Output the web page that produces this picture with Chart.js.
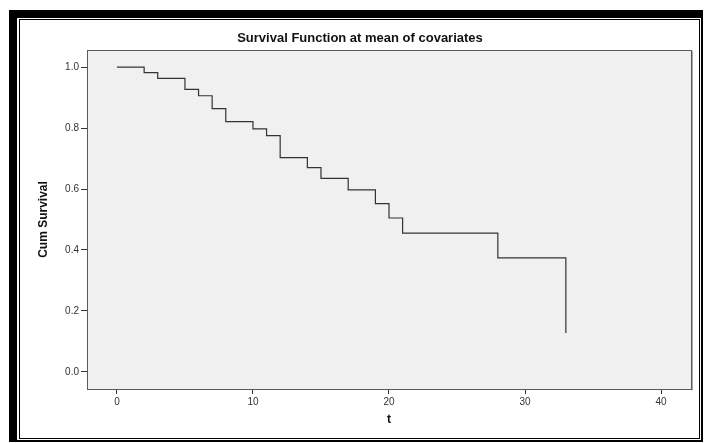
<!DOCTYPE html>
<html>
<head>
<meta charset="utf-8">
<script src="https://cdn.jsdelivr.net/npm/chart.js@4/dist/chart.umd.min.js"></script>
<style>
  html, body { margin: 0; padding: 0; background: #fff; }
  #wrap { position: relative; width: 704px; height: 443px; overflow: hidden; }
  #chart { position: absolute; left: 0; top: 0; }
  /* SPSS-style double frame: heavy black left/top, thin right/bottom */
  .frame-outer {
    position: absolute; left: 9px; top: 10px; width: 684px; height: 422px;
    border-left: 8px solid #000; border-top: 8px solid #000;
    border-right: 2px solid #000; border-bottom: 2px solid #000;
    pointer-events: none;
  }
  .frame-inner {
    position: absolute; left: 19px; top: 19px; width: 679px; height: 418px;
    border: 1px solid #000; pointer-events: none;
  }
</style>
</head>
<body>
<div id="wrap">
  <canvas id="chart" width="704" height="443"></canvas>
  <div class="frame-outer"></div>
  <div class="frame-inner"></div>
</div>
<script>
  // Kaplan-Meier style step values
  var times =    [0,   2,     3,     5,     6,     7,     8,     10,    11,    12,    14,    15,    17,    19,    20,    21,    28,    33];
  var survival = [1.0, 0.982, 0.963, 0.927, 0.906, 0.864, 0.821, 0.797, 0.775, 0.703, 0.670, 0.635, 0.597, 0.552, 0.505, 0.455, 0.374, 0.128];

  var xTicks = [0, 10, 20, 30, 40];
  var yTicks = [0.0, 0.2, 0.4, 0.6, 0.8, 1.0];

  var titleText = "Survival Function at mean of covariates";
  var xTitle = "t";
  var yTitle = "Cum Survival";

  var FONT = "Arial, 'Liberation Sans', sans-serif";
  var INK = "#333";

  var points = times.map(function (t, i) { return { x: t, y: survival[i] }; });

  var framePlugin = {
    id: "spssFrame",
    beforeDatasetsDraw: function (chart) {
      var a = chart.chartArea, ctx = chart.ctx;
      ctx.save();
      ctx.fillStyle = "#f0f0f0";
      ctx.fillRect(a.left, a.top, a.right - a.left, a.bottom - a.top);
      ctx.restore();
    },
    afterDatasetsDraw: function (chart) {
      var a = chart.chartArea, ctx = chart.ctx;
      ctx.save();
      // soft shadow on the right edge
      ctx.strokeStyle = "#a8a8a8";
      ctx.lineWidth = 1;
      ctx.beginPath();
      ctx.moveTo(a.right + 1.5, a.top + 1);
      ctx.lineTo(a.right + 1.5, a.bottom + 1.5);
      ctx.stroke();
      ctx.strokeStyle = "#5a5a5a";
      ctx.strokeRect(Math.round(a.left) + 0.5, Math.round(a.top) + 0.5,
        Math.round(a.right - a.left), Math.round(a.bottom - a.top));

      ctx.fillStyle = "#111";
      ctx.textAlign = "center";
      ctx.textBaseline = "middle";
      ctx.font = "bold 13px " + FONT;
      ctx.fillText(titleText, 360, 38);
      ctx.font = "bold 12px " + FONT;
      ctx.fillText(xTitle, (a.left + a.right) / 2, 420);
      ctx.translate(44, (a.top + a.bottom) / 2);
      ctx.rotate(-Math.PI / 2);
      ctx.fillText(yTitle, 0, 0);
      ctx.restore();
    },
  };

  new Chart(document.getElementById("chart"), {
    type: "line",
    data: {
      datasets: [{
        data: points,
        stepped: "before",
        borderColor: "#333",
        borderWidth: 1.2,
        pointRadius: 0,
        fill: false,
      }],
    },
    options: {
      responsive: false,
      animation: false,
      devicePixelRatio: 1,
      layout: { padding: { left: 0, top: 50, right: 13, bottom: 0 } },
      plugins: { legend: { display: false }, tooltip: { enabled: false }, title: { display: false } },
      scales: {
        x: {
          type: "linear",
          min: -2.2,
          max: 42.2,
          afterBuildTicks: function (axis) { axis.ticks = xTicks.map(function (v) { return { value: v }; }); },
          afterFit: function (axis) { axis.height = 54; },
          border: { display: false },
          grid: { drawOnChartArea: false, drawTicks: true, tickLength: 5, color: INK, lineWidth: 1 },
          ticks: { color: INK, padding: 2, font: { family: FONT, size: 10 }, maxRotation: 0 },
        },
        y: {
          type: "linear",
          min: -0.056,
          max: 1.056,
          afterBuildTicks: function (axis) { axis.ticks = yTicks.map(function (v) { return { value: v }; }); },
          afterFit: function (axis) { axis.width = 87; },
          border: { display: false },
          grid: { drawOnChartArea: false, drawTicks: true, tickLength: 6, color: INK, lineWidth: 1 },
          ticks: {
            color: INK, padding: 2, font: { family: FONT, size: 10 },
            callback: function (v) { return Number(v).toFixed(1); },
          },
        },
      },
    },
    plugins: [framePlugin],
  });
</script>
</body>
</html>
